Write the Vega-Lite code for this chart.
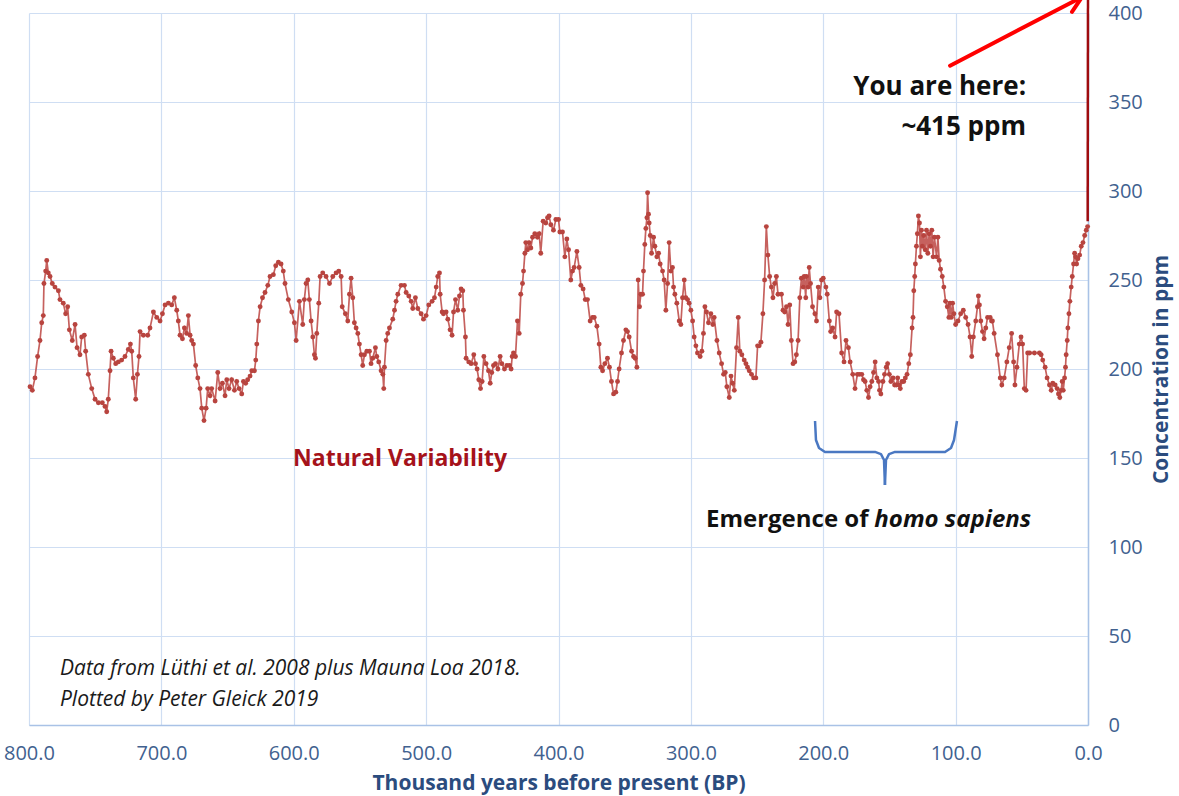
{
"$schema": "https://vega.github.io/schema/vega-lite/v6.json",
"autosize": {"type": "none"},
"padding": {"left": 29, "top": 13, "right": 91, "bottom": 71},
"width": 1059,
"height": 712,
"background": "white",
"config": {"font": "Open Sans", "view": {"stroke": null}},
"datasets": {
"co2": [
{"k":799.2,"c":190},{"k":797.5,"c":188},{"k":795.5,"c":195},{"k":793.5,"c":207},{"k":791.7,"c":216},{"k":790.4,"c":226},{"k":789.2,"c":230},{"k":788.7,"c":248},{"k":787.4,"c":255},{"k":786.6,"c":261},{"k":785.4,"c":254},{"k":784.1,"c":252},{"k":782.4,"c":248},{"k":780.4,"c":246},{"k":777.8,"c":244},{"k":776.6,"c":239},{"k":774.1,"c":237},{"k":772.3,"c":231},{"k":770.8,"c":235},{"k":769.5,"c":222},{"k":767.3,"c":216},{"k":765.2,"c":225},{"k":763.7,"c":212},{"k":761.5,"c":208},{"k":760.2,"c":218},{"k":758.2,"c":219},{"k":757.2,"c":210},{"k":755.2,"c":197},{"k":752.6,"c":189},{"k":750.1,"c":183},{"k":747.6,"c":181},{"k":744.6,"c":181},{"k":742.6,"c":179},{"k":741.3,"c":176},{"k":740.1,"c":183},{"k":738.8,"c":199},{"k":738.0,"c":210},{"k":736.3,"c":206},{"k":734.5,"c":203},{"k":732.5,"c":204},{"k":730.0,"c":205},{"k":727.5,"c":207},{"k":725.0,"c":211},{"k":723.4,"c":214},{"k":722.4,"c":210},{"k":721.2,"c":195},{"k":719.4,"c":183},{"k":718.1,"c":197},{"k":716.9,"c":207},{"k":716.1,"c":221},{"k":713.6,"c":219},{"k":710.3,"c":219},{"k":708.6,"c":223},{"k":706.0,"c":232},{"k":703.5,"c":229},{"k":701.0,"c":227},{"k":699.2,"c":231},{"k":697.2,"c":236},{"k":694.7,"c":237},{"k":692.2,"c":236},{"k":690.2,"c":240},{"k":688.4,"c":233},{"k":687.2,"c":227},{"k":685.9,"c":219},{"k":684.1,"c":217},{"k":682.6,"c":223},{"k":680.9,"c":220},{"k":679.6,"c":230},{"k":678.3,"c":219},{"k":677.1,"c":216},{"k":675.8,"c":214},{"k":674.1,"c":202},{"k":672.5,"c":195},{"k":670.8,"c":189},{"k":669.5,"c":178},{"k":667.8,"c":171},{"k":666.2,"c":178},{"k":665.0,"c":189},{"k":663.2,"c":185},{"k":662.0,"c":189},{"k":659.4,"c":182},{"k":657.4,"c":198},{"k":655.7,"c":189},{"k":653.9,"c":192},{"k":651.9,"c":185},{"k":650.6,"c":194},{"k":648.9,"c":189},{"k":646.9,"c":194},{"k":644.8,"c":188},{"k":643.1,"c":193},{"k":641.3,"c":189},{"k":639.3,"c":186},{"k":638.0,"c":193},{"k":636.3,"c":192},{"k":634.8,"c":194},{"k":633.0,"c":196},{"k":631.7,"c":199},{"k":629.7,"c":199},{"k":628.7,"c":205},{"k":627.9,"c":214},{"k":626.7,"c":227},{"k":625.4,"c":235},{"k":623.6,"c":240},{"k":621.7,"c":243},{"k":619.6,"c":247},{"k":617.9,"c":252},{"k":615.4,"c":253},{"k":613.6,"c":258},{"k":611.6,"c":260},{"k":609.6,"c":259},{"k":607.9,"c":255},{"k":606.6,"c":248},{"k":604.1,"c":239},{"k":601.5,"c":232},{"k":599.5,"c":226},
{"k":598.2,"c":216},{"k":595.7,"c":238},{"k":593.2,"c":225},{"k":592.0,"c":239},{"k":590.7,"c":248},{"k":589.4,"c":250},{"k":588.2,"c":239},{"k":586.9,"c":227},{"k":585.6,"c":218},{"k":584.4,"c":208},{"k":583.6,"c":206},{"k":582.6,"c":220},{"k":581.1,"c":237},{"k":580.1,"c":252},{"k":578.1,"c":254},{"k":575.6,"c":252},{"k":573.0,"c":248},{"k":570.5,"c":252},{"k":568.0,"c":254},{"k":566.0,"c":255},{"k":564.2,"c":252},{"k":563.4,"c":235},{"k":561.0,"c":231},{"k":559.2,"c":227},{"k":557.9,"c":242},{"k":556.7,"c":251},{"k":555.4,"c":240},{"k":554.2,"c":226},{"k":552.9,"c":223},{"k":551.6,"c":220},{"k":550.4,"c":214},{"k":549.1,"c":208},{"k":547.9,"c":202},{"k":546.6,"c":208},{"k":544.8,"c":210},{"k":542.8,"c":210},{"k":541.6,"c":203},{"k":540.3,"c":206},{"k":538.3,"c":212},{"k":537.3,"c":207},{"k":535.8,"c":204},{"k":534.0,"c":199},{"k":532.7,"c":197},{"k":532.0,"c":189},{"k":531.5,"c":201},{"k":530.2,"c":216},{"k":529.0,"c":220},{"k":527.7,"c":223},{"k":525.2,"c":228},{"k":523.9,"c":233},{"k":522.7,"c":238},{"k":521.4,"c":242},{"k":518.9,"c":247},{"k":516.4,"c":247},{"k":515.1,"c":243},{"k":513.1,"c":241},{"k":511.3,"c":238},{"k":510.1,"c":234},{"k":508.1,"c":240},{"k":506.3,"c":234},{"k":503.8,"c":231},{"k":502.0,"c":228},{"k":500.0,"c":230},{"k":498.0,"c":236},{"k":495.5,"c":238},{"k":493.7,"c":240},{"k":492.4,"c":246},{"k":491.2,"c":252},{"k":489.9,"c":254},{"k":489.4,"c":242},{"k":487.9,"c":232},{"k":486.9,"c":231},{"k":484.9,"c":232},{"k":483.6,"c":228},{"k":481.9,"c":222},{"k":480.4,"c":219},{"k":479.3,"c":232},{"k":477.8,"c":239},{"k":476.1,"c":233},{"k":474.8,"c":241},{"k":473.6,"c":245},{"k":472.3,"c":244},{"k":471.8,"c":233},{"k":470.3,"c":218},{"k":469.8,"c":206},{"k":467.8,"c":204},{"k":466.0,"c":203},{"k":464.0,"c":208},{"k":462.7,"c":203},{"k":461.5,"c":200},{"k":460.2,"c":194},{"k":458.9,"c":189},{"k":457.7,"c":193},{"k":456.4,"c":207},{"k":454.7,"c":203},{"k":452.9,"c":199},{"k":451.6,"c":192},{"k":450.4,"c":198},{"k":449.1,"c":202},{"k":447.6,"c":203},{"k":445.8,"c":200},{"k":444.1,"c":207},{"k":442.8,"c":203},{"k":440.8,"c":200},{"k":439.0,"c":202},{"k":437.0,"c":202},{"k":435.8,"c":200},{"k":435.0,"c":207},{"k":434.0,"c":209},{"k":432.5,"c":207},
{"k":431.0,"c":227},{"k":429.7,"c":220},{"k":428.5,"c":242},{"k":427.2,"c":248},{"k":426.4,"c":255},{"k":425.4,"c":265},{"k":424.7,"c":271},{"k":423.4,"c":267},{"k":422.2,"c":271},{"k":420.9,"c":268},{"k":419.6,"c":274},{"k":417.9,"c":276},{"k":415.9,"c":274},{"k":414.6,"c":276},{"k":413.4,"c":265},{"k":411.6,"c":283},{"k":409.6,"c":282},{"k":408.3,"c":285},{"k":407.1,"c":286},{"k":405.8,"c":281},{"k":403.8,"c":278},{"k":402.0,"c":284},{"k":400.0,"c":284},{"k":399.0,"c":277},{"k":397.0,"c":277},{"k":395.2,"c":263},{"k":393.7,"c":273},{"k":392.4,"c":267},{"k":390.7,"c":250},{"k":389.4,"c":255},{"k":388.2,"c":257},{"k":386.1,"c":266},{"k":384.4,"c":257},{"k":383.1,"c":247},{"k":381.4,"c":245},{"k":379.8,"c":239},{"k":378.1,"c":239},{"k":376.1,"c":227},{"k":374.3,"c":229},{"k":373.0,"c":229},{"k":371.0,"c":224},{"k":369.3,"c":214},{"k":368.0,"c":201},{"k":366.7,"c":199},{"k":365.0,"c":203},{"k":363.0,"c":206},{"k":361.5,"c":201},{"k":360.0,"c":193},{"k":358.4,"c":186},{"k":356.7,"c":187},{"k":355.4,"c":193},{"k":354.2,"c":200},{"k":352.4,"c":209},{"k":350.9,"c":216},{"k":349.1,"c":222},{"k":347.9,"c":221},{"k":346.6,"c":218},{"k":344.8,"c":210},{"k":343.3,"c":207},{"k":342.1,"c":206},{"k":340.8,"c":201},{"k":339.8,"c":250},{"k":338.8,"c":235},{"k":337.8,"c":242},{"k":336.5,"c":242},{"k":335.8,"c":255},{"k":334.8,"c":270},{"k":334.0,"c":279},{"k":333.2,"c":285},{"k":332.7,"c":299},{"k":332.0,"c":287},{"k":331.5,"c":282},{"k":330.7,"c":275},{"k":329.7,"c":265},{"k":328.2,"c":274},{"k":327.2,"c":269},{"k":325.7,"c":263},{"k":324.4,"c":265},{"k":323.2,"c":259},{"k":321.4,"c":255},{"k":320.2,"c":250},{"k":318.9,"c":233},{"k":317.6,"c":248},{"k":316.4,"c":271},{"k":315.1,"c":255},{"k":313.9,"c":257},{"k":313.1,"c":246},{"k":312.1,"c":242},{"k":310.6,"c":237},{"k":308.8,"c":227},{"k":307.6,"c":225},{"k":306.3,"c":240},{"k":305.0,"c":250},{"k":303.8,"c":240},{"k":302.5,"c":239},{"k":301.3,"c":237},{"k":300.0,"c":233},{"k":298.7,"c":227},{"k":297.5,"c":218},{"k":296.2,"c":213},{"k":295.0,"c":209},{"k":293.0,"c":207},{"k":291.7,"c":210},{"k":290.5,"c":220},{"k":289.4,"c":235},{"k":288.2,"c":232},{"k":286.7,"c":226},{"k":284.9,"c":231},{"k":283.4,"c":225},{"k":282.4,"c":229},{"k":280.3,"c":216},{"k":278.6,"c":209},{"k":276.8,"c":203},{"k":275.3,"c":197},{"k":274.0,"c":198},{"k":272.8,"c":190},{"k":271.0,"c":184},{"k":269.7,"c":196},{"k":268.5,"c":192},{"k":267.2,"c":188},{"k":265.5,"c":212},{"k":264.2,"c":229},{"k":263.0,"c":210},{"k":261.5,"c":208},{"k":259.7,"c":205},{"k":258.4,"c":203},{"k":257.2,"c":201},{"k":255.9,"c":199},{"k":254.2,"c":197},{"k":252.6,"c":195},{"k":250.9,"c":195},{"k":249.6,"c":213},{"k":248.4,"c":213},{"k":247.1,"c":215},
{"k":245.6,"c":231},{"k":244.3,"c":250},{"k":243.0,"c":280},{"k":241.8,"c":264},{"k":240.5,"c":252},{"k":239.2,"c":246},{"k":238.0,"c":240},{"k":236.7,"c":248},{"k":235.4,"c":252},{"k":234.2,"c":242},{"k":231.6,"c":242},{"k":230.4,"c":233},{"k":229.1,"c":232},{"k":227.8,"c":235},{"k":226.6,"c":225},{"k":225.3,"c":236},{"k":224.1,"c":216},{"k":222.8,"c":203},{"k":221.5,"c":204},{"k":220.3,"c":208},{"k":219.0,"c":216},{"k":217.7,"c":240},{"k":216.5,"c":251},{"k":215.2,"c":246},{"k":214.4,"c":252},{"k":213.2,"c":240},{"k":212.7,"c":252},{"k":211.4,"c":246},{"k":210.6,"c":257},{"k":209.6,"c":248},{"k":208.1,"c":235},{"k":206.3,"c":231},{"k":205.1,"c":227},{"k":203.8,"c":246},{"k":202.5,"c":240},{"k":201.3,"c":250},{"k":200.0,"c":251},{"k":198.0,"c":246},{"k":197.0,"c":242},{"k":195.4,"c":227},{"k":194.4,"c":221},{"k":192.9,"c":223},{"k":191.1,"c":218},{"k":189.9,"c":232},{"k":188.1,"c":231},{"k":186.1,"c":209},{"k":184.3,"c":204},{"k":182.8,"c":216},{"k":181.0,"c":212},{"k":179.7,"c":204},{"k":177.7,"c":197},{"k":176.0,"c":189},{"k":174.2,"c":197},{"k":172.7,"c":197},{"k":170.9,"c":197},{"k":169.6,"c":194},{"k":168.4,"c":193},{"k":167.1,"c":188},{"k":165.8,"c":184},{"k":164.6,"c":190},{"k":163.3,"c":193},{"k":162.0,"c":198},{"k":160.8,"c":204},{"k":159.5,"c":195},{"k":158.2,"c":193},{"k":157.5,"c":188},{"k":156.5,"c":186},{"k":154.9,"c":193},{"k":153.7,"c":197},{"k":152.4,"c":201},{"k":151.4,"c":203},{"k":150.1,"c":197},{"k":148.9,"c":193},{"k":147.3,"c":195},{"k":146.1,"c":191},{"k":144.8,"c":191},{"k":143.8,"c":195},{"k":142.8,"c":191},{"k":141.8,"c":189},{"k":140.5,"c":193},{"k":139.2,"c":193},{"k":138.0,"c":195},{"k":136.7,"c":197},{"k":135.4,"c":203},{"k":134.2,"c":208},{"k":132.9,"c":223},{"k":132.2,"c":229},{"k":131.6,"c":244},{"k":130.9,"c":252},{"k":130.4,"c":259},{"k":129.6,"c":269},{"k":128.9,"c":276},{"k":128.1,"c":286},{"k":127.3,"c":282},{"k":126.6,"c":263},{"k":125.8,"c":278},{"k":125.1,"c":269},{"k":124.1,"c":275},{"k":123.0,"c":267},{"k":122.0,"c":278},{"k":121.0,"c":265},{"k":120.0,"c":276},{"k":119.0,"c":269},{"k":118.0,"c":278},{"k":117.0,"c":263},{"k":116.0,"c":274},{"k":114.4,"c":263},{"k":113.4,"c":274},{"k":112.4,"c":261},{"k":111.4,"c":256},{"k":110.1,"c":252},{"k":108.9,"c":246},{"k":107.6,"c":238},{"k":106.3,"c":235},{"k":105.1,"c":229},{"k":104.3,"c":237},{"k":103.3,"c":229},{"k":102.3,"c":237},{"k":101.3,"c":231},{"k":100.0,"c":225},{"k":98.2,"c":227},{"k":96.2,"c":231},{"k":94.2,"c":233},{"k":92.4,"c":229},{"k":90.6,"c":225},{"k":89.1,"c":218},{"k":87.8,"c":207},{"k":86.6,"c":218},{"k":84.8,"c":227},{"k":83.5,"c":235},{"k":82.8,"c":241},{"k":82.0,"c":236},{"k":81.0,"c":227},{"k":79.7,"c":221},{"k":78.5,"c":217},{"k":77.2,"c":223},{"k":75.9,"c":229},{"k":73.9,"c":229},{"k":72.9,"c":227},{"k":72.2,"c":227},{"k":70.9,"c":220},{"k":68.4,"c":208},{"k":66.3,"c":195},{"k":65.1,"c":191},{"k":63.3,"c":195},{"k":61.3,"c":204},{"k":59.5,"c":212},{"k":57.7,"c":220},{"k":56.2,"c":204},{"k":55.2,"c":191},{"k":53.7,"c":201},{"k":51.9,"c":214},{"k":50.6,"c":218},{"k":49.4,"c":214},{"k":48.1,"c":189},{"k":46.8,"c":188},{"k":45.6,"c":209},{"k":44.1,"c":209},{"k":40.5,"c":209},{"k":36.7,"c":209},{"k":35.4,"c":208},{"k":34.2,"c":205},{"k":32.4,"c":201},{"k":30.9,"c":195},{"k":29.1,"c":191},{"k":27.8,"c":188},{"k":26.6,"c":192},{"k":24.8,"c":191},{"k":23.3,"c":189},{"k":22.3,"c":186},{"k":21.3,"c":184},{"k":20.3,"c":188},{"k":19.5,"c":193},{"k":18.7,"c":188},{"k":17.7,"c":195},{"k":17.0,"c":201},{"k":16.5,"c":208},{"k":15.7,"c":216},{"k":15.2,"c":223},{"k":14.4,"c":231},{"k":13.7,"c":238},{"k":12.7,"c":246},{"k":11.9,"c":252},{"k":10.9,"c":259},{"k":10.1,"c":265},{"k":9.4,"c":263},{"k":8.6,"c":259},{"k":7.6,"c":262},{"k":6.3,"c":264},{"k":5.1,"c":269},{"k":3.8,"c":271},{"k":2.5,"c":275},{"k":1.3,"c":278},{"k":0.3,"c":280}
],
"modern": [{"k":0.25,"c":283},{"k":0.0,"c":415}],
"brace": [
{"part":"L","i":0,"k":206.2,"c":170.8},{"part":"L","i":1,"k":205.5,"c":160.1},{"part":"L","i":2,"k":203.2,"c":155.6},{"part":"L","i":3,"k":198.7,"c":153.4},{"part":"L","i":4,"k":160.9,"c":153.4},{"part":"L","i":5,"k":156.4,"c":152.2},{"part":"L","i":6,"k":154.1,"c":148.9},{"part":"L","i":7,"k":153.4,"c":134.8},
{"part":"R","i":0,"k":153.4,"c":134.8},{"part":"R","i":1,"k":152.6,"c":148.9},{"part":"R","i":2,"k":150.3,"c":152.2},{"part":"R","i":3,"k":145.8,"c":153.4},{"part":"R","i":4,"k":108.0,"c":153.4},{"part":"R","i":5,"k":103.5,"c":155.6},{"part":"R","i":6,"k":101.2,"c":160.1},{"part":"R","i":7,"k":99.0,"c":170.8}
],
"arrow": [
{"part":"shaft","i":0,"k":104.2,"c":370.4},{"part":"shaft","i":1,"k":4.5,"c":409},
{"part":"h1","i":0,"k":18.1,"c":409.6},{"part":"h1","i":1,"k":4.5,"c":409},
{"part":"h2","i":0,"k":12.1,"c":400.6},{"part":"h2","i":1,"k":4.5,"c":409}
]
},
"encoding": {
"x": {"field": "k", "type": "quantitative",
 "scale": {"domain": [0, 800], "reverse": true, "nice": false, "zero": false},
 "axis": {"title": "Thousand years before present (BP)", "values": [0,100,200,300,400,500,600,700,800], "format": ".1f",
  "ticks": false, "labelPadding": 18, "labelFontSize": 20, "labelColor": "#41618F", "labelFlush": false,
  "titleFontSize": 21, "titleFontWeight": "bold", "titleColor": "#2B4C7E", "titlePadding": 9,
  "domainColor": "#A9C2E6", "domainWidth": 1.5, "gridColor": "#CFDEF3", "gridWidth": 1.2}},
"y": {"field": "c", "type": "quantitative",
 "scale": {"domain": [0, 400], "nice": false},
 "axis": {"orient": "right", "title": "Concentration in ppm", "values": [0,50,100,150,200,250,300,350,400],
  "ticks": false, "labelPadding": 20, "labelFontSize": 20, "labelColor": "#41618F",
  "titleFontSize": 21, "titleFontWeight": "bold", "titleColor": "#2B4C7E", "titleAngle": 270, "titlePadding": 29,
  "domainColor": "#A9C2E6", "domainWidth": 1.5, "gridColor": "#CFDEF3", "gridWidth": 1.2}}
},
"layer": [
{"data": {"name": "co2"}, "mark": {"type": "line", "color": "#C0504D", "strokeWidth": 1.7, "opacity": 0.9,
  "point": {"filled": true, "size": 24, "color": "#B8443F"}}},
{"data": {"name": "modern"}, "mark": {"type": "line", "color": "#9E0B0F", "strokeWidth": 2.5}},
{"data": {"name": "brace"}, "mark": {"type": "line", "color": "#4A78C2", "strokeWidth": 2.5, "strokeJoin": "round"},
 "encoding": {"detail": {"field": "part"}, "order": {"field": "i", "type": "quantitative"}}},
{"data": {"name": "arrow"}, "mark": {"type": "line", "color": "#FF0000", "strokeWidth": 4, "strokeCap": "round"},
 "encoding": {"detail": {"field": "part"}, "order": {"field": "i", "type": "quantitative"}}},
{"data": {"values": [{"k": 519.7, "c": 149.5, "t": "Natural Variability"}]},
 "mark": {"type": "text", "align": "center", "baseline": "middle", "fontSize": 23, "fontWeight": "bold", "color": "#A5121A"},
 "encoding": {"text": {"field": "t"}}},
{"data": {"values": [{"k": 46.8, "c": 358.4, "t": "You are here:"}, {"k": 46.8, "c": 336, "t": "~415 ppm"}]},
 "mark": {"type": "text", "align": "right", "baseline": "middle", "fontSize": 26, "fontWeight": "bold", "color": "#111111"},
 "encoding": {"text": {"field": "t"}}},
{"data": {"values": [{"k": 288.6, "c": 115.2, "t": "Emergence of"}]},
 "mark": {"type": "text", "align": "left", "baseline": "middle", "fontSize": 24, "fontWeight": "bold", "color": "#111111"},
 "encoding": {"text": {"field": "t"}}},
{"data": {"values": [{"k": 161.4, "c": 115.2, "t": "homo sapiens"}]},
 "mark": {"type": "text", "align": "left", "baseline": "middle", "fontSize": 24, "fontWeight": "bold", "fontStyle": "italic", "color": "#111111"},
 "encoding": {"text": {"field": "t"}}},
{"data": {"values": [{"k": 776.6, "c": 31.7, "t": "Data from Lüthi et al. 2008 plus Mauna Loa 2018."}, {"k": 776.6, "c": 14.3, "t": "Plotted by Peter Gleick 2019"}]},
 "mark": {"type": "text", "align": "left", "baseline": "middle", "fontSize": 21, "fontStyle": "italic", "color": "#1A1A1A"},
 "encoding": {"text": {"field": "t"}}}
]
}
